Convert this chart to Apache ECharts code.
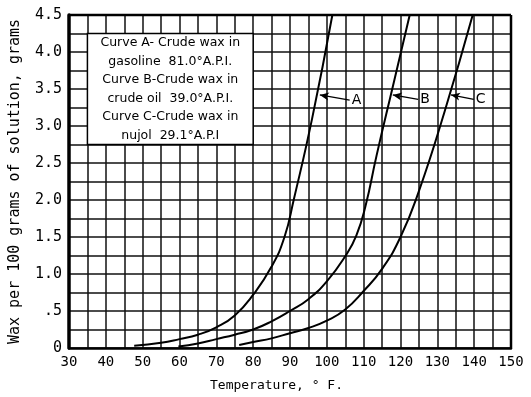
<!DOCTYPE html>
<html>
<head>
<meta charset="utf-8">
<script src="https://cdn.jsdelivr.net/npm/echarts@6/dist/echarts.min.js"></script>
<style>
html,body{margin:0;padding:0;background:#fff;}
#c{width:531px;height:397px;}
</style>
</head>
<body>
<div id="c"></div>
<script>
// Curve A - crude wax in gasoline
const tempA = [47.7, 55, 60, 65, 70, 75, 80, 85, 88.5, 91, 96, 101.5];
const waxA  = [0.03, 0.07, 0.12, 0.18, 0.28, 0.44, 0.72, 1.1, 1.5, 2.0, 3.1, 4.5];
// Curve B - crude wax in crude oil
const tempB = [59.7, 65, 70, 75, 80, 85, 90, 95, 100, 105, 108, 110.5, 113.5, 118, 122.5];
const waxB  = [0.02, 0.06, 0.12, 0.18, 0.25, 0.36, 0.5, 0.66, 0.9, 1.24, 1.52, 1.92, 2.6, 3.55, 4.5];
// Curve C - crude wax in nujol
const tempC = [76.2, 80, 85, 90, 95, 100, 105, 110, 115, 120, 125, 132, 139.6];
const waxC  = [0.04, 0.08, 0.13, 0.2, 0.27, 0.37, 0.52, 0.77, 1.07, 1.5, 2.12, 3.2, 4.5];

// Arrow annotations: [tail, head] in data coords, plus letter
const arrowLabels = ['A', 'B', 'C'];
const arrowTail = [[106.2, 3.35], [124.8, 3.36], [139.9, 3.36]];
const arrowHead = [[98.1, 3.42], [117.9, 3.42], [133.7, 3.42]];

const legendLines = [
  'Curve A- Crude wax in',
  'gasoline  81.0°A.P.I.',
  'Curve B-Crude wax in',
  'crude oil  39.0°A.P.I.',
  'Curve C-Crude wax in',
  'nujol  29.1°A.P.I'
];

const xTitle = 'Temperature, ° F.';
const yTitle = 'Wax per 100 grams of solution, grams';

function zip(a, b) { return a.map((v, i) => [v, b[i]]); }

const chart = echarts.init(document.getElementById('c'), null, {renderer: 'canvas'});

const monoFont = '"DejaVu Sans Mono", "Liberation Mono", monospace';
const lineColor = '#111';

function curve(name, xs, ys, idx) {
  return {
    name: name,
    type: 'line',
    data: zip(xs, ys),
    smooth: 0.5,
    showSymbol: false,
    symbol: 'none',
    lineStyle: {color: '#000', width: 2},
    z: 5,
    markLine: {
      silent: true,
      symbol: ['none', 'arrow'],
      symbolSize: [6, 9],
      lineStyle: {color: '#000', width: 1.3, type: 'solid'},
      label: {
        show: true,
        position: 'start',
        formatter: arrowLabels[idx],
        color: '#000',
        fontSize: 14,
        fontFamily: '"DejaVu Sans", sans-serif',
        distance: 2
      },
      data: [[{coord: arrowTail[idx]}, {coord: arrowHead[idx]}]]
    }
  };
}

const option = {
  backgroundColor: '#fff',
  animation: false,
  grid: {left: 62, right: 20, top: 15, bottom: 42, containLabel: false},
  xAxis: {
    type: 'value',
    min: 30, max: 150, interval: 10,
    name: xTitle,
    nameLocation: 'middle',
    nameGap: 31,
    nameTextStyle: {fontFamily: monoFont, fontSize: 13, color: '#000', padding: [0, 27, 0, 0]},
    axisLine: {show: true, onZero: false, lineStyle: {color: '#000', width: 2.5}},
    axisTick: {show: false},
    axisLabel: {fontFamily: monoFont, fontSize: 14, color: '#000', margin: 7},
    splitLine: {show: true, lineStyle: {color: lineColor, width: 1.5}},
    minorTick: {show: false, splitNumber: 2},
    minorSplitLine: {show: true, lineStyle: {color: lineColor, width: 1.5}}
  },
  yAxis: {
    type: 'value',
    min: 0, max: 4.5, interval: 0.5,
    name: yTitle,
    nameLocation: 'middle',
    nameGap: 46,
    nameRotate: 90,
    nameTextStyle: {fontFamily: monoFont, fontSize: 15, color: '#000'},
    axisLine: {show: true, onZero: false, lineStyle: {color: '#000', width: 3.5}},
    axisTick: {show: false},
    axisLabel: {
      fontFamily: monoFont, fontSize: 15, color: '#000', margin: 7,
      formatter: function (v) {
        if (v === 0) return '0';
        if (v === 0.5) return '.5';
        return v.toFixed(1);
      }
    },
    splitLine: {show: true, lineStyle: {color: lineColor, width: 1.5}},
    minorTick: {show: false, splitNumber: 2},
    minorSplitLine: {show: true, lineStyle: {color: lineColor, width: 1.5}}
  },
  series: [
    curve('A', tempA, waxA, 0),
    curve('B', tempB, waxB, 1),
    curve('C', tempC, waxC, 2)
  ],
  graphic: []
};

chart.setOption(option);

function buildGraphics() {
  const p0 = chart.convertToPixel({gridIndex: 0}, [30, 0]);
  const p1 = chart.convertToPixel({gridIndex: 0}, [150, 4.5]);
  const b0 = chart.convertToPixel({gridIndex: 0}, [35, 4.25]);
  const b1 = chart.convertToPixel({gridIndex: 0}, [80, 2.75]);
  const g = [];
  g.push({type: 'line', shape: {x1: p0[0], y1: p1[1], x2: p1[0], y2: p1[1]}, style: {stroke: '#000', lineWidth: 2.5}, z: 10});
  g.push({type: 'line', shape: {x1: p1[0], y1: p1[1], x2: p1[0], y2: p0[1]}, style: {stroke: '#000', lineWidth: 2.5}, z: 10});
  g.push({type: 'rect', shape: {x: b0[0], y: b0[1], width: b1[0] - b0[0], height: b1[1] - b0[1]}, style: {fill: '#fff', stroke: '#000', lineWidth: 1.5}, z: 20});
  const cx = (b0[0] + b1[0]) / 2;
  const h = b1[1] - b0[1];
  const step = h / legendLines.length;
  legendLines.forEach((t, i) => {
    g.push({
      type: 'text', z: 21,
      style: {
        text: t, x: cx, y: b0[1] + step * (i + 0.5),
        textAlign: 'center', textVerticalAlign: 'middle',
        font: '12.5px "DejaVu Sans", sans-serif', fill: '#000'
      }
    });
  });
  chart.setOption({graphic: g});
}
buildGraphics();
</script>
</body>
</html>
